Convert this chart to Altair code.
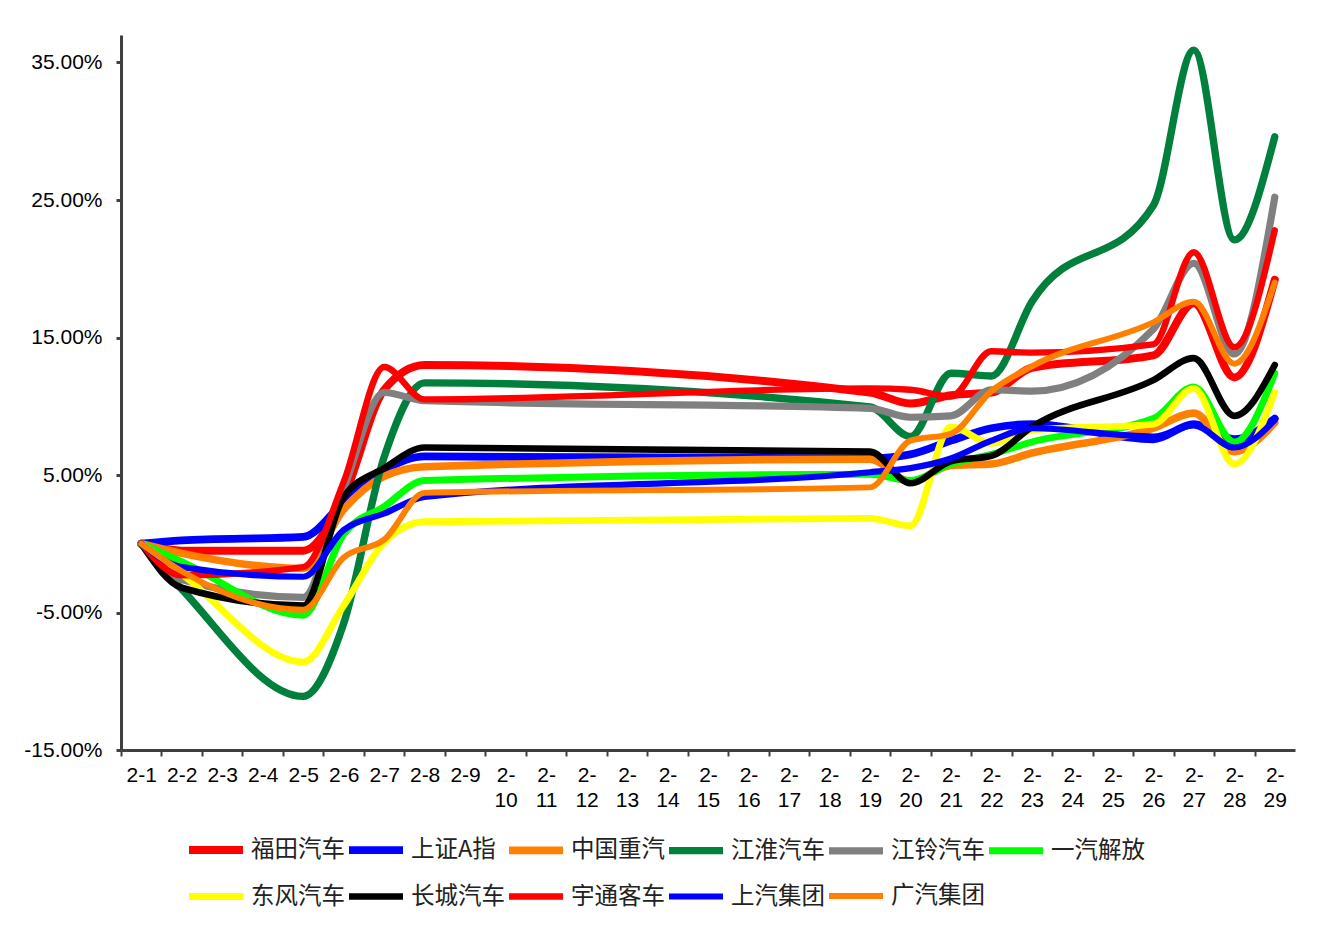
import altair as alt
import pandas as pd

# category axis (all calendar days shown on the axis)
all_dates = ["2-1", "2-2", "2-3", "2-4", "2-5", "2-6", "2-7", "2-8", "2-9", "2-10",
             "2-11", "2-12", "2-13", "2-14", "2-15", "2-16", "2-17", "2-18", "2-19",
             "2-20", "2-21", "2-22", "2-23", "2-24", "2-25", "2-26", "2-27", "2-28", "2-29"]
# days with data (the line is connected across the gaps)
trade_dates = ["2-1", "2-2", "2-5", "2-6", "2-7", "2-8", "2-19", "2-20", "2-21",
               "2-22", "2-23", "2-26", "2-27", "2-28", "2-29"]

names = ["福田汽车", "上证A指", "中国重汽", "江淮汽车", "江铃汽车", "一汽解放",
         "东风汽车", "长城汽车", "宇通客车", "上汽集团", "广汽集团"]

futian   = [0, -0.5, -0.5, 3.4, 11.2, 13.0, 11.0, 10.2, 10.8, 11.0, 12.8, 13.7, 17.5, 12.1, 19.2]
szA      = [0, 0.25, 0.5, 3.0, 5.35, 6.35, 6.2, 6.5, 7.5, 8.4, 8.7, 7.6, 8.7, 7.6, 9.1]
zgzq     = [0, -0.7, -1.8, 2.5, 4.9, 5.6, 6.15, 4.5, 5.7, 5.8, 6.6, 8.4, 9.5, 6.7, 8.8]
jianghuai = [0, -3.3, -11.1, -5.8, 6.3, 11.7, 9.95, 7.8, 12.4, 12.2, 17.6, 24.6, 35.9, 22.1, 29.6]
jiangling = [0, -2.6, -3.9, 4.0, 11.0, 10.4, 9.85, 9.2, 9.3, 11.2, 11.1, 15.6, 20.4, 13.8, 25.2]
yiqi     = [0, -1.3, -5.2, 0.7, 2.7, 4.6, 5.05, 4.6, 5.8, 6.5, 7.4, 9.1, 11.4, 7.4, 12.4]
dongfeng = [0, -2.2, -8.6, -4.5, 0.1, 1.6, 1.85, 1.3, 8.5, 7.3, 8.25, 8.7, 11.3, 5.8, 11.0]
changcheng = [0, -3.2, -4.5, 3.4, 5.5, 7.0, 6.7, 4.4, 6.0, 6.4, 8.5, 11.9, 13.5, 9.3, 13.0]
yutong   = [0, -2.3, -1.7, 4.5, 12.85, 10.5, 11.3, 11.2, 10.7, 14.0, 13.9, 14.5, 21.2, 14.3, 22.8]
shangqi  = [0, -1.7, -2.4, 1.0, 2.2, 3.4, 5.2, 5.5, 6.2, 7.5, 8.4, 7.8, 8.6, 7.0, 9.0]
guangqi  = [0, -2.0, -4.8, -1.0, 0.3, 3.7, 4.1, 7.5, 8.0, 11.1, 12.9, 16.1, 17.6, 13.1, 19.0]

series = [futian, szA, zgzq, jianghuai, jiangling, yiqi, dongfeng, changcheng,
          yutong, shangqi, guangqi]

colors = ["#FF0000", "#0000FF", "#FF8000", "#00803C", "#808080", "#00FF00",
          "#FFFF00", "#000000", "#FF0000", "#0000FF", "#FF8000"]
widths = [8, 6, 6, 4.5, 5.5, 5.5, 5.5, 5.5, 5.5, 5, 5.5]

y_ticks = [-15, -5, 5, 15, 25, 35]

rows = []
for n, vals in zip(names, series):
    for d, v in zip(trade_dates, vals):
        rows.append({"series": n, "date": d, "value": v})
df = pd.DataFrame(rows)

W, H = 1174, 715
step = W / len(all_dates)

legend_kw = dict(
    title=None, orient="none", legendX=64, legendY=784,
    direction="horizontal", columns=6, symbolType="stroke",
    symbolSize=2916, labelFontSize=23.5, labelFont="Noto Sans CJK SC",
    labelColor="#222222", columnPadding=-12.5, rowPadding=-9, labelOffset=4,
)

chart = alt.Chart(df).mark_line(
    interpolate="monotone", strokeCap="round", strokeJoin="round"
).encode(
    x=alt.X("date:O", sort=None,
            scale=alt.Scale(type="point", domain=all_dates, padding=0.5),
            axis=alt.Axis(title=None, labelAngle=0, labelFontSize=21,
                          labelFont="Liberation Sans", labelColor="#000000",
                          labelPadding=8, labelLineHeight=25, labelOverlap=False,
                          labelExpr="length(datum.label) > 3 ? ['2-', slice(datum.label, 2)] : datum.label",
                          domainColor="#404040", domainWidth=3,
                          tickColor="#404040", tickWidth=2, tickSize=6,
                          tickOffset=-step / 2, labelOffset=step / 2)),
    y=alt.Y("value:Q",
            scale=alt.Scale(domain=[-15, 37], nice=False, zero=False),
            axis=alt.Axis(title=None, values=y_ticks, grid=False,
                          labelExpr="(datum.value < 0 ? '-' : '') + format(abs(datum.value), '.2f') + '%'",
                          labelFontSize=21, labelFont="Liberation Sans",
                          labelColor="#000000", labelPadding=14,
                          domainColor="#404040", domainWidth=3,
                          tickColor="#404040", tickWidth=3, tickSize=5)),
    color=alt.Color("series:N", sort=names,
                    scale=alt.Scale(domain=names, range=colors),
                    legend=alt.Legend(**legend_kw)),
    strokeWidth=alt.StrokeWidth("series:N", sort=names,
                                scale=alt.Scale(domain=names, range=widths),
                                legend=alt.Legend(**legend_kw)),
).properties(
    width=W, height=H,
    autosize=alt.AutoSizeParams(type="none"),
    padding={"left": 113, "top": 27, "right": 20, "bottom": 170},
    background="white",
).configure_view(stroke=None)

chart.save("out.html", embed_options={"renderer": "svg", "actions": False})
